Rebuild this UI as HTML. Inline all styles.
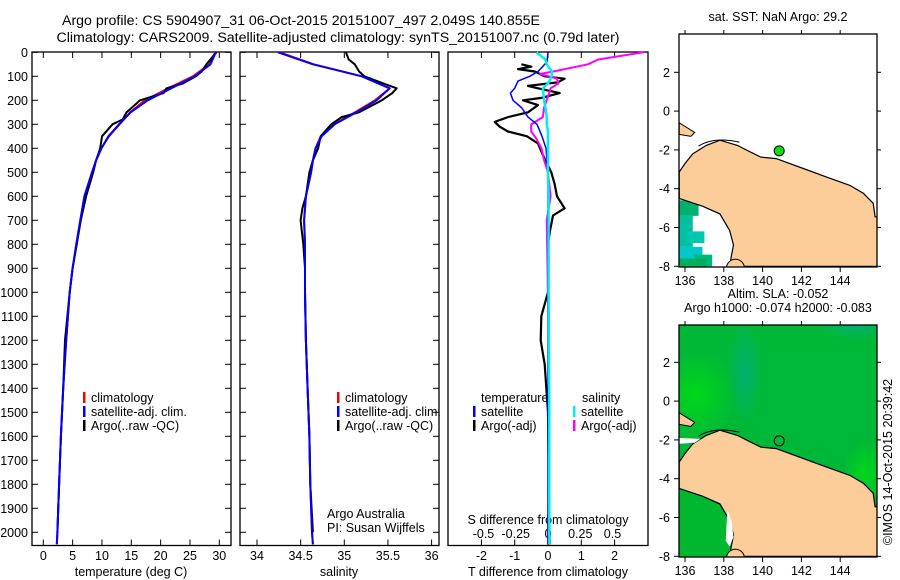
<!DOCTYPE html>
<html><head><meta charset="utf-8"><style>
html,body{margin:0;padding:0;background:#fff;width:900px;height:580px;overflow:hidden;}
svg{display:block;font-family:"Liberation Sans",sans-serif;}
</style></head><body>
<svg id="fig" width="900" height="580" viewBox="0 0 900 580" xmlns="http://www.w3.org/2000/svg">
<text x="301" y="25" font-size="14.2" text-anchor="middle">Argo profile: CS 5904907_31 06-Oct-2015 20151007_497 2.049S 140.855E</text>
<text x="338" y="42" font-size="14.2" text-anchor="middle">Climatology: CARS2009. Satellite-adjusted climatology: synTS_20151007.nc (0.79d later)</text>
<g id="g1"></g>
<g id="g2"></g>
<g id="g3"></g>
<g id="m1"></g>
<g id="m2"></g>
<text transform="translate(892,462) rotate(-90)" font-size="12.5" text-anchor="middle">©IMOS 14-Oct-2015 20:39:42</text>
</svg>
<script>
// ---- data ----
const tDepths = [0,50,100,150,200,250,300,350,400,450,500,600,700,800,900,1000,1200,1400,1600,1800,2000,2050];
const tClim   = [29.3,28.3,25.5,21.3,17.3,14.8,13.0,11.2,9.9,9.0,8.3,7.0,6.3,5.7,5.0,4.5,3.9,3.4,3.0,2.7,2.4,2.3];
const tSat    = [29.4,28.5,25.8,21.8,17.8,14.9,12.9,11.1,9.9,9.0,8.3,7.0,6.3,5.6,5.0,4.5,3.9,3.4,3.0,2.7,2.4,2.3];
const argoTDepths = [0,50,80,100,130,150,170,200,250,280,300,350,400,450,500,600,700,800,900,1000,1200,1400,1600,1800,2000];
const argoT = [29.5,27.8,27.0,26.0,23.8,21.0,20.5,16.5,14.2,13.5,11.8,10.0,9.7,9.0,8.5,7.3,6.4,5.7,5.0,4.5,3.7,3.4,3.0,2.7,2.4];
const sClim = [34.26,34.65,35.2,35.52,35.35,35.12,34.88,34.73,34.67,34.64,34.62,34.56,34.54,34.55,34.55,34.55,34.56,34.58,34.6,34.61,34.63,34.64];
const sSat  = [34.24,34.64,35.2,35.52,35.37,35.14,34.89,34.74,34.67,34.64,34.62,34.56,34.54,34.55,34.55,34.55,34.56,34.58,34.6,34.61,34.63,34.64];
const argoSDepths = [0,30,50,80,100,130,150,170,200,250,270,300,350,400,450,500,600,650,700,800,900,1000,1200,1400,1600,1800,2000];
const argoS = [35.02,35.05,35.12,35.17,35.23,35.45,35.6,35.55,35.43,35.17,34.97,34.85,34.73,34.7,34.64,34.6,34.56,34.52,34.5,34.53,34.55,34.55,34.56,34.58,34.6,34.61,34.64];
const dTDepths = [0,40,80,100,120,150,170,200,230,270,300,350,400,500,600,700,800,1000,1500,2050];
const dTSat = [0,-0.03,-0.3,-0.55,-0.9,-1.0,-1.13,-1.05,-0.8,-0.6,-0.33,-0.18,-0.06,0,0,0,0,0,0,0];
const dTArgoDepths = [50,60,70,80,100,110,125,140,150,170,190,200,220,250,270,290,310,330,350,380,420,500,550,600,650,680,750,800,1000,1100,1200,1300,1500,2050];
const dTArgo = [-0.8,-0.5,-0.9,-0.4,-0.1,0.5,0.3,-0.6,-0.3,0.35,-0.2,-0.75,-0.3,-0.6,-1.2,-1.6,-1.45,-1.2,-0.63,-0.3,-0.18,0.1,0.2,0.27,0.5,0.15,0.05,0,0,-0.2,-0.22,-0.1,0,0.05];
const dSDepths = [0,30,50,80,90,110,130,150,200,230,270,300,330,360,400,450,500,600,700,1000,1500,2050];
const dSArgo = [0.74,0.39,0.31,0.04,-0.06,0.07,0.08,0.02,-0.01,-0.03,-0.04,-0.13,-0.13,-0.09,-0.05,-0.03,0,0.02,-0.01,0,0.01,0];
const dSSat  = [-0.09,-0.02,-0.01,0.03,0.03,0.02,0.0,-0.04,-0.03,-0.02,-0.01,-0.01,0,0,0,0,0,0.005,0.005,0.005,0.01,0.01];
const depthTicks = [0,100,200,300,400,500,600,700,800,900,1000,1100,1200,1300,1400,1500,1600,1700,1800,1900,2000];
const tTicks = [0,5,10,15,20,25,30];
const sTicks = [34,34.5,35,35.5,36];
const sTickLabels = ["34","34.5","35","35.5","36"];
const dTTicks = [-2,-1,0,1,2];
const dSTicks = [-0.5,-0.25,0,0.25,0.5];
const dSTickLabels = ["-0.5","-0.25","0","0.25","0.5"];
const lonTicks = [136,138,140,142,144];
const latTicks = [2,0,-2,-4,-6,-8];
const argoLon = 140.855, argoLat = -2.049;
const coastLon = [135.7,136,136.4,137.1,137.8,138.7,139.35,139.9,140.7,142.1,143.3,144.5,145.2,145.7,145.8,146,146,138.3,138.4,138.5,138.3,137.8,136.9,135.7];
const coastLat = [-3.14,-2.7,-2.2,-1.77,-1.5,-1.77,-2.1,-2.37,-2.45,-2.96,-3.4,-3.83,-4.24,-4.75,-5.45,-5.45,-8,-8,-7.4,-6.9,-6.15,-5.3,-4.9,-4.5];

// ---- helpers ----
const NS="http://www.w3.org/2000/svg";
function mk(parent,tag,attrs,text){const e=document.createElementNS(NS,tag);for(const k in attrs)e.setAttribute(k,attrs[k]);if(text!==undefined)e.textContent=text;parent.appendChild(e);return e;}
const yD = d => 52.3 + d*0.24;
const PB=545.5;

function panel(g,x0,x1,name){
  const r=mk(g,'rect',{x:x0,y:52,width:x1-x0,height:PB-52,fill:'none',stroke:'#000','stroke-width':1.3});
  
  
  depthTicks.forEach(d=>{
    mk(g,'line',{x1:x0,x2:x0+6,y1:yD(d),y2:yD(d),stroke:'#000'});
    mk(g,'line',{x1:x1,x2:x1-6,y1:yD(d),y2:yD(d),stroke:'#000'});
  });
}
function xticks(g,xs,labels,ly,top){
  xs.forEach((x,i)=>{
    mk(g,'line',{x1:x,x2:x,y1:PB,y2:PB-6,stroke:'#000'});
    if(top) mk(g,'line',{x1:x,x2:x,y1:52,y2:58,stroke:'#000'});
    if(labels){const t=mk(g,'text',{x:x,y:ly,'font-size':12.5,'text-anchor':'middle'},labels[i]);
      
      }
  });
}
function line(g,depths,vals,sx,color,w,name){
  const pts=depths.map((d,i)=>sx(vals[i]).toFixed(1)+','+yD(d).toFixed(1)).join(' ');
  const p=mk(g,'polyline',{points:pts,fill:'none',stroke:color,'stroke-width':w,'stroke-linejoin':'round'});
  
  
}
function legend(g,x,y,items){
  items.forEach((it,i)=>{
    mk(g,'rect',{x:x,y:y+i*14-10,width:2.5,height:11,fill:it[0]});
    const t=mk(g,'text',{x:x+8,y:y+i*14,'font-size':12.5},it[1]);
    
    
  });
}

// ---- temperature panel ----
const g1=document.getElementById('g1');
const sxT = t => 43.3 + t*5.867;
panel(g1,32,231,'temperature');
depthTicks.forEach(d=>{const t=mk(g1,'text',{x:28,y:yD(d)+4.5,'font-size':12.5,'text-anchor':'end'},String(d));
  
  });
xticks(g1,tTicks.map(sxT),tTicks.map(String),560,true);
mk(g1,'text',{x:131,y:576,'font-size':12.5,'text-anchor':'middle'},'temperature (deg C)');
line(g1,tDepths,tClim,sxT,'#f00',2,'temp-climatology');
line(g1,argoTDepths,argoT,sxT,'#000',2,'temp-argo');
line(g1,tDepths,tSat,sxT,'#00f',2,'temp-satellite');
legend(g1,83,402,[['#f00','climatology'],['#00f','satellite-adj. clim.'],['#000','Argo(..raw -QC)']]);

// ---- salinity panel ----
const g2=document.getElementById('g2');
const sxS = s => 257 + (s-34)*87.3;
panel(g2,240,439,'salinity');
xticks(g2,sTicks.map(sxS),sTickLabels,560,true);
mk(g2,'text',{x:339,y:576,'font-size':12.5,'text-anchor':'middle'},'salinity');
line(g2,tDepths,sClim,sxS,'#f00',2,'sal-climatology');
line(g2,argoSDepths,argoS,sxS,'#000',2,'sal-argo');
line(g2,tDepths,sSat,sxS,'#00f',2,'sal-satellite');
legend(g2,337,402,[['#f00','climatology'],['#00f','satellite-adj. clim.'],['#000','Argo(..raw -QC)']]);
mk(g2,'text',{x:327,y:518,'font-size':12.5},'Argo Australia');
mk(g2,'text',{x:327,y:532,'font-size':12.5},'PI: Susan Wijffels');

// ---- difference panel ----
const g3=document.getElementById('g3');
const sxDT = v => 548 + v*33.3;
const sxDS = v => 548 + v*129;
mk(g3,'rect',{x:448,y:52,width:200,height:PB-52,fill:'none',stroke:'#000','stroke-width':1.3});
xticks(g3,dTTicks.map(sxDT),dTTicks.map(String),560,true);
dSTicks.forEach((v,i)=>{mk(g3,'text',{x:sxDS(v),y:538,'font-size':12.5,'text-anchor':'middle'},dSTickLabels[i]);});
mk(g3,'text',{x:548,y:524,'font-size':12.5,'text-anchor':'middle'},'S difference from climatology');
mk(g3,'text',{x:548,y:576,'font-size':12.5,'text-anchor':'middle'},'T difference from climatology');
line(g3,dTArgoDepths,dTArgo,sxDT,'#000',2.2,'dT-argo');
line(g3,dSDepths,dSArgo,sxDS,'#f0f',2,'dS-argo');
line(g3,dTDepths,dTSat,sxDT,'#00f',1.5,'dT-satellite');
line(g3,dSDepths,dSSat,sxDS,'#0ee',2.5,'dS-satellite');
mk(g3,'text',{x:481,y:402,'font-size':12.5},'temperature');
mk(g3,'text',{x:582,y:402,'font-size':12.5},'salinity');
legend(g3,473,416,[['#00f','satellite'],['#000','Argo(-adj)']]);
legend(g3,573,416,[['#0ee','satellite'],['#f0f','Argo(-adj)']]);

// ---- maps ----
function map(g,x0,y0,w,h,latTopPx,titles,sla){
  const sx = lon => x0 + 6 + (lon-136)*19.4;
  const sy = lat => latTopPx + (2-lat)*19.4;
  const cp='clip'+x0+y0;
  const d=mk(g,'defs',{});
  const c=mk(d,'clipPath',{id:cp});mk(c,'rect',{x:x0,y:y0,width:w,height:h});
  const inner=mk(g,'g',{'clip-path':'url(#'+cp+')'});
  if(sla){
    mk(inner,'rect',{x:x0,y:y0,width:w,height:h,fill:'#00b838'});
    const rg=mk(d,'radialGradient',{id:'rg1'});mk(rg,'stop',{offset:0,'stop-color':'#00d818'});mk(rg,'stop',{offset:1,'stop-color':'#00d818','stop-opacity':0});
    mk(inner,'ellipse',{cx:sx(136.6),cy:sy(0.3),rx:40,ry:45,fill:'url(#rg1)'});
    mk(inner,'ellipse',{cx:sx(145.3),cy:sy(-3.8),rx:22,ry:35,fill:'url(#rg1)'});
    const rg2=mk(d,'radialGradient',{id:'rg2'});mk(rg2,'stop',{offset:0,'stop-color':'#00b070'});mk(rg2,'stop',{offset:1,'stop-color':'#00b070','stop-opacity':0});
    mk(inner,'ellipse',{cx:sx(139.1),cy:sy(1.5),rx:18,ry:50,fill:'url(#rg2)'});
    mk(inner,'ellipse',{cx:sx(144.8),cy:sy(3.9),rx:35,ry:15,fill:'url(#rg2)'});
    mk(inner,'rect',{x:x0,y:sy(-4.6),width:sx(138.5)-x0,height:h,fill:'#00b830'});
  } else {
    const cols=[['#00b070',136,-4.6,0.7,0.8],['#00c0a0',136,-5.4,0.4,1.6],['#00c8b0',136.4,-6.2,0.6,0.6],['#00c8c8',136,-7,0.9,0.7],['#00b878',136.8,-7.4,0.6,0.6],['#00b060',136,-7.6,1.1,0.6]];
    cols.forEach(cc=>mk(inner,'rect',{x:sx(cc[1])-6,y:sy(cc[2]),width:cc[3]*19.4+6,height:cc[4]*19.4,fill:cc[0]}));
  }
  const pts=coastLon.map((lo,i)=>sx(lo).toFixed(1)+','+sy(coastLat[i]).toFixed(1)).join(' ');
  const land=mk(inner,'polygon',{points:pts,fill:'#fccc99',stroke:'#000','stroke-width':1.2});
  
  
  mk(inner,'polygon',{points:`${sx(135.7)},${sy(-0.6)} ${sx(136.5)},${sy(-1.1)} ${sx(136.3)},${sy(-1.3)} ${sx(135.7)},${sy(-1.2)}`,fill:'#fccc99',stroke:'#000'});
  if(sla) mk(inner,'polygon',{points:`${sx(135.7)},${sy(-1.9)} ${sx(136.8)},${sy(-1.95)} ${sx(136.5)},${sy(-2.15)} ${sx(135.7)},${sy(-2.2)}`,fill:'#fff'});
  mk(inner,'path',{d:`M${sx(136.7)},${sy(-1.8)} Q${sx(137.5)},${sy(-1.3)} ${sx(138.8)},${sy(-1.6)}`,fill:'none',stroke:'#000'});
  if(sla) mk(inner,'polygon',{points:`${sx(138.2)},${sy(-5.6)} ${sx(138.4)},${sy(-6.2)} ${sx(138.5)},${sy(-7)} ${sx(138.3)},${sy(-7.5)} ${sx(138.1)},${sy(-7.2)} ${sx(138.15)},${sy(-6.2)}`,fill:'#fff'});
  mk(inner,'circle',{cx:sx(138.6),cy:sy(-8.1),r:9,fill:'#fccc99',stroke:'#000'});
  const dot=mk(inner,'circle',{cx:sx(argoLon),cy:sy(argoLat),r:5,fill:sla?'none':'#11dd11',stroke:'#000'});
  
  
  mk(g,'rect',{x:x0,y:y0,width:w,height:h,fill:'none',stroke:'#000','stroke-width':1.3});
  lonTicks.forEach(lo=>{mk(g,'line',{x1:sx(lo),x2:sx(lo),y1:y0+h,y2:y0+h+5,stroke:'#000'});mk(g,'line',{x1:sx(lo),x2:sx(lo),y1:y0,y2:y0-4,stroke:'#000'});
    mk(g,'text',{x:sx(lo),y:y0+h+18,'font-size':12.5,'text-anchor':'middle'},String(lo));});
  latTicks.forEach(la=>{mk(g,'line',{x1:x0,x2:x0-5,y1:sy(la),y2:sy(la),stroke:'#000'});mk(g,'line',{x1:x0+w,x2:x0+w+4,y1:sy(la),y2:sy(la),stroke:'#000'});
    mk(g,'text',{x:x0-9,y:sy(la)+4.5,'font-size':12.5,'text-anchor':'end'},String(la));});
  titles.forEach((t,i)=>mk(g,'text',{x:x0+w/2,y:y0-13+(i-titles.length+1)*14,'font-size':12.5,'text-anchor':'middle'},t));
}
map(document.getElementById('m1'),679,34,198,233,72.3,['sat. SST: NaN Argo: 29.2'],false);
map(document.getElementById('m2'),679,325,198,232,362.3,['Altim. SLA: -0.052','Argo h1000: -0.074 h2000: -0.083'],true);
</script>
</body></html>
